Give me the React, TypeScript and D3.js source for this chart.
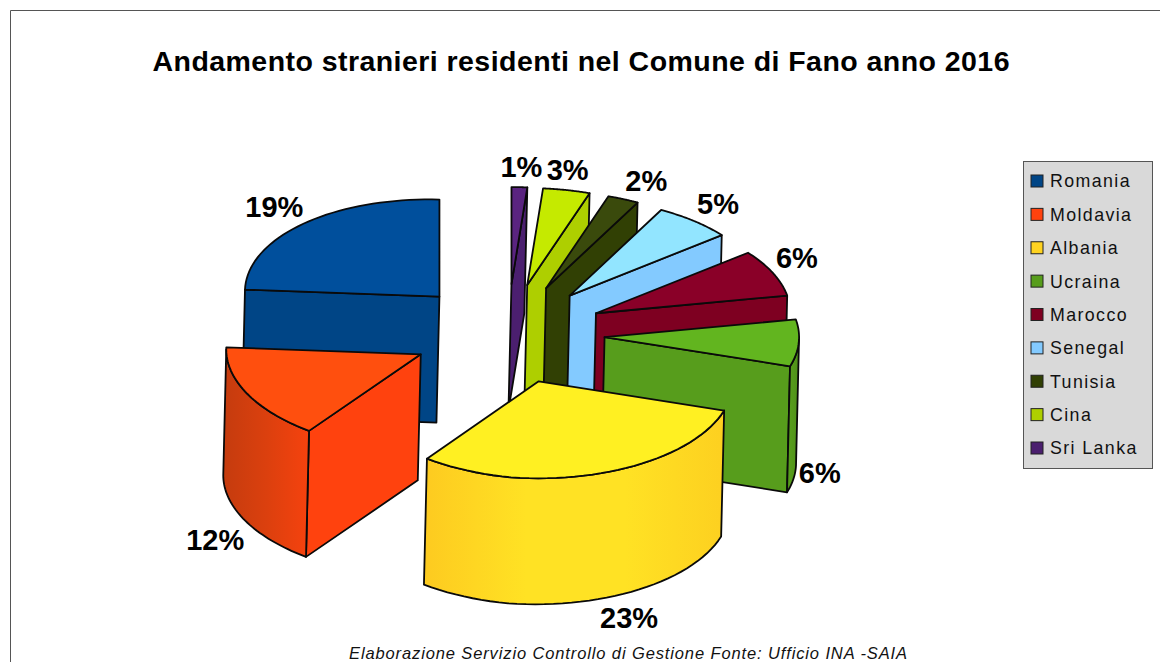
import React from 'react';
import * as d3 from 'd3';

// data
const countries = ['Romania', 'Moldavia', 'Albania', 'Ucraina', 'Marocco', 'Senegal', 'Tunisia', 'Cina', 'Sri Lanka'];
const shares = [19, 12, 23, 6, 6, 5, 2, 3, 1];

const sideColors = ['#004586', '#ff420e', '#ffd320', '#579d1c', '#7e0021', '#83caff', '#314004', '#aecf00', '#4b1f6f'];
const topColors = ['#004f9c', '#ff4f0e', '#fff022', '#62b51f', '#8a0028', '#92e5ff', '#3a4a0c', '#c5ea00', '#5a2480'];

const wallStops: Record<string, string[]> = {
  Moldavia: ['#c63c0e', '#dc400e', '#f6420e'],
  Albania: ['#fdcb20', '#ffe224', '#ffe224', '#fdd020'],
  Ucraina: ['#579d1c', '#4f8f19'],
};

const WIDTH = 1160;
const HEIGHT = 662;
const EXPLODE_X = 0.5;
const EXPLODE_Y = 0.515;
const DEPTH = 126;
const BOTTOM_SHIFT = -3;

// unit circle -> screen
const xScale = d3.scaleLinear().domain([-1, 1]).range([507.5 - 194.5, 507.5 + 194.5]);
const yScale = d3.scaleLinear().domain([-1, 1]).range([334 + 97, 334 - 97]);

const project = (u: number, v: number, lower = false): [number, number] => {
  const tilt = u < 0 ? 5 * u : 0;
  return [xScale(u) + (lower ? BOTTOM_SHIFT : 0), yScale(v) + tilt + (lower ? DEPTH : 0)];
};

const slices = d3
  .pie<number>()
  .sort(null)
  .startAngle(Math.PI / 2)
  .endAngle(Math.PI / 2 + 2 * Math.PI)(shares)
  .map((d, i) => {
    const mid = (d.startAngle + d.endAngle) / 2;
    const ax = EXPLODE_X * Math.cos(mid);
    const ay = EXPLODE_Y * Math.sin(mid);
    return { i, name: countries[i], a0: d.startAngle, a1: d.endAngle, mid, ax, ay };
  });

type Slice = (typeof slices)[number];

const rimPoint = (s: Slice, a: number, lower = false) => project(s.ax + Math.cos(a), s.ay + Math.sin(a), lower);
const apexPoint = (s: Slice, lower = false) => project(s.ax, s.ay, lower);

const rim = (s: Slice, a0: number, a1: number, lower = false) =>
  d3.range(0, 41).map(k => rimPoint(s, a0 + ((a1 - a0) * k) / 40, lower));

const line = d3.line();

const topPath = (s: Slice) => line([apexPoint(s), ...rim(s, s.a0, s.a1)]) + 'Z';

const facePath = (s: Slice, a: number) =>
  line([apexPoint(s), rimPoint(s, a), rimPoint(s, a, true), apexPoint(s, true)]) + 'Z';

// part of the slice rim that faces the viewer
const wallRange = (s: Slice): [number, number] | null => {
  const from = Math.max(s.a0, Math.PI);
  const to = Math.min(s.a1, 2 * Math.PI);
  return to > from ? [from, to] : null;
};

const wallPath = (s: Slice, r: [number, number]) =>
  line([...rim(s, r[0], r[1]), ...rim(s, r[0], r[1], true).reverse()]) + 'Z';

// painter's order: far apex first
const ordered = [...slices].sort((a, b) => b.ay - a.ay);

// label nudges from the rim
const labelNudge = [
  [-29, -17],
  [-29, 20],
  [31, 18],
  [24, 4],
  [24, -15],
  [24, -17],
  [23, -19],
  [1, -21],
  [2, -21],
];

const labelPos = (s: Slice) => {
  const [x, y] = rimPoint(s, s.mid, Math.sin(s.mid) < 0);
  return [x + labelNudge[s.i][0], y + labelNudge[s.i][1]];
};

const legendY = d3.scalePoint<string>().domain(countries).range([181, 448]);

const sans = "'Liberation Sans', Arial, sans-serif";

export default function App() {
  return (
    <svg
      width={WIDTH}
      height={HEIGHT}
      style={{ position: 'absolute', left: 0, top: 0, background: '#fff' }}
      fontFamily={sans}
    >
      <defs>
        {slices.map(s => {
          const stops = wallStops[s.name];
          const r = wallRange(s);
          if (!stops || !r) return null;
          return (
            <linearGradient
              key={s.name}
              id={`wall-${s.i}`}
              gradientUnits="userSpaceOnUse"
              x1={rimPoint(s, r[0])[0]}
              x2={rimPoint(s, r[1])[0]}
              y1={0}
              y2={0}
            >
              {stops.map((c, k) => (
                <stop key={k} offset={k / (stops.length - 1)} stopColor={c} />
              ))}
            </linearGradient>
          );
        })}
      </defs>

      {/* page frame */}
      <path d={`M${WIDTH},10.5H10.5V${HEIGHT}`} fill="none" stroke="#555" strokeWidth={1} />

      <text x={581} y={71} textAnchor="middle" fontWeight="bold" fontSize={28.5} textLength={857} lengthAdjust="spacing">
        Andamento stranieri residenti nel Comune di Fano anno 2016
      </text>

      {ordered.map(s => {
        const r = wallRange(s);
        const stroke = { stroke: '#0a0a0a', strokeWidth: 1.8, strokeLinejoin: 'round' as const };
        return (
          <g key={s.name}>
            {Math.cos(s.a0) > 0.001 && <path d={facePath(s, s.a0)} fill={sideColors[s.i]} {...stroke} />}
            {Math.cos(s.a1) < -0.001 && <path d={facePath(s, s.a1)} fill={sideColors[s.i]} {...stroke} />}
            {r && (
              <path
                d={wallPath(s, r)}
                fill={wallStops[s.name] ? `url(#wall-${s.i})` : sideColors[s.i]}
                {...stroke}
              />
            )}
            <path d={topPath(s)} fill={topColors[s.i]} {...stroke} />
          </g>
        );
      })}

      {slices.map(s => {
        const [x, y] = labelPos(s);
        return (
          <text key={s.name} x={x} y={y} textAnchor="middle" dy="0.36em" fontWeight="bold" fontSize={29}>
            {shares[s.i]}%
          </text>
        );
      })}

      {/* legend */}
      <rect x={1023.5} y={161.5} width={129} height={307} fill="#d9d9d9" stroke="#555" strokeWidth={1} />
      {countries.map((c, i) => (
        <g key={c}>
          <rect
            x={1031}
            y={legendY(c)! - 6}
            width={12}
            height={12}
            fill={i === 2 ? '#ffd320' : sideColors[i]}
            stroke="#222"
            strokeWidth={1}
          />
          <text x={1050} y={legendY(c)!} dy="0.36em" fontSize={17.8} letterSpacing={1.4} fill="#111">
            {c}
          </text>
        </g>
      ))}

      <text
        x={628}
        y={659}
        textAnchor="middle"
        fontStyle="italic"
        fontSize={16.5}
        textLength={558}
        lengthAdjust="spacing"
        fill="#111"
      >
        Elaborazione Servizio Controllo di Gestione Fonte: Ufficio INA -SAIA
      </text>
    </svg>
  );
}
